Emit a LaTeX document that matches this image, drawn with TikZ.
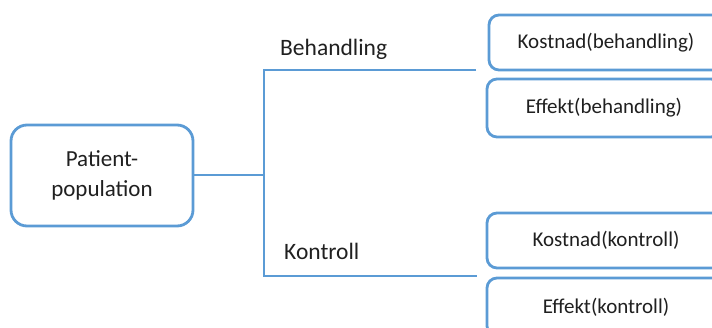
\documentclass[tikz,border=0pt]{standalone}
\usepackage{fontspec}
\setmainfont{Carlito}
\definecolor{accent}{HTML}{5B9BD5}
\definecolor{txt}{HTML}{202020}
\begin{document}
\begin{tikzpicture}[x=1pt,y=-1pt,
  box/.style={draw=accent,line width=2.8pt,rounded corners=10pt,fill=white,inner sep=0pt,
    font=\fontsize{21}{24}\selectfont,text=txt},
  conn/.style={draw=accent,line width=2.8pt},
  lbl/.style={font=\fontsize{23.5}{28}\selectfont,text=txt,anchor=west,inner sep=0pt}]
\useasboundingbox (0,0) rectangle (712,327);
\clip (0,0) rectangle (712,327);
\node[box, minimum width=182pt, minimum height=101pt, rounded corners=16pt, align=center,
  font=\fontsize{23}{30}\selectfont] (pat) at (102,175.5) {Patient-\\population};
\node[box, minimum width=234pt, minimum height=55pt] (kb) at (606,42.5) {Kostnad(behandling)};
\node[box, minimum width=234pt, minimum height=58pt] (eb) at (604,108) {Effekt(behandling)};
\node[box, minimum width=238pt, minimum height=55pt] (kk) at (606,240.5) {Kostnad(kontroll)};
\node[box, minimum width=238pt, minimum height=58pt] (ek) at (606,307) {Effekt(kontroll)};
\coordinate (j) at (264,175);
\coordinate (jt) at (264,70);
\coordinate (jb) at (264,276);
\coordinate (et) at (476,70);
\coordinate (ebb) at (477,276);
\draw[conn] (pat.east |- j) -- (j);
\draw[conn] (et) -- (jt) -- (jb) -- (ebb);
\node[lbl] (lb) at (280,49) {Behandling};
\node[lbl] (lk) at (284,251) {Kontroll};
\end{tikzpicture}
\end{document}
